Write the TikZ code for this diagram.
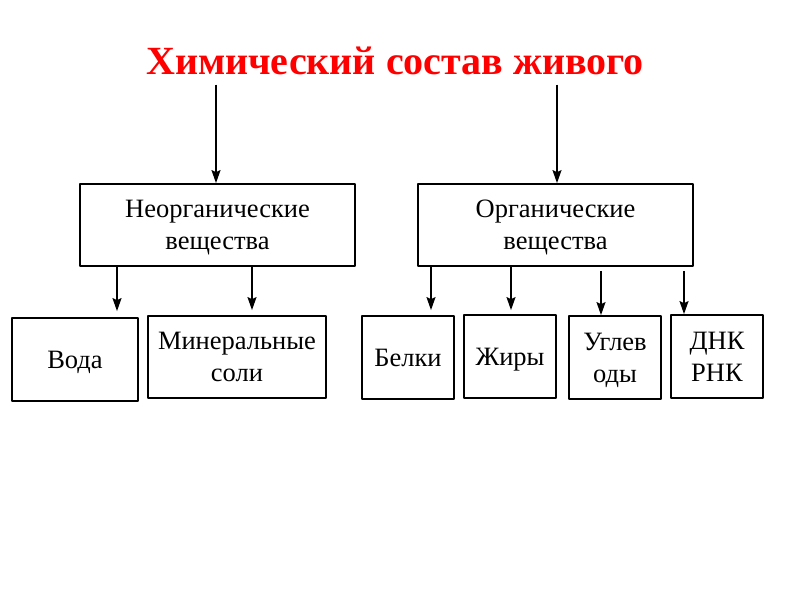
\documentclass[tikz,border=0pt]{standalone}
\usepackage{fontspec}
\setmainfont{Liberation Serif}
\usetikzlibrary{arrows.meta}
\tikzset{
  box/.style={draw, line width=1.8pt, align=center, inner sep=2pt, text depth=0pt,
    font=\fontsize{26.5}{32}\selectfont},
  arr/.style={-{Stealth[length=13pt,width=9pt,inset=2pt]}, line width=1.4pt}
}
\begin{document}
\begin{tikzpicture}[x=1pt, y=-1pt, line join=round]
	\useasboundingbox (0,0) rectangle (800,600);
	\node[font=\bfseries\fontsize{40}{44}\selectfont, text=red] (title) at (395,61) {Химический состав живого};
	% second row
	\node[box, minimum width=275pt, minimum height=82pt] (neorg) at (217.5,225) {Неорганические\\вещества};
	\node[box, minimum width=275pt, minimum height=82pt] (org) at (555.5,225) {Органические\\вещества};
	% third row
	\node[box, minimum width=126pt, minimum height=83pt] (voda) at (75,359.5) {Вода};
	\node[box, minimum width=178pt, minimum height=82pt] (mineral) at (237,357) {Минеральные\\соли};
	\node[box, minimum width=92pt, minimum height=83pt] (belki) at (408,357.5) {Белки};
	\node[box, minimum width=92pt, minimum height=83pt] (zhiry) at (510,356.5) {Жиры};
	\node[box, minimum width=92pt, minimum height=83pt] (uglev) at (615,357.5) {Углев\\оды};
	\node[box, minimum width=92pt, minimum height=83pt] (dnk) at (717,356.5) {ДНК\\РНК};
	% arrows
	\draw[arr] (title.south -| 216,0) ++(0,6) -- (neorg.north -| 216,0);
	\draw[arr] (title.south -| 557,0) ++(0,6) -- (org.north -| 557,0);
	\draw[arr] (neorg.south -| 117,0) -- ([yshift=6pt]voda.north -| 117,0);
	\draw[arr] (neorg.south -| 252,0) -- ([yshift=5pt]mineral.north -| 252,0);
	\draw[arr] (org.south -| 431,0) -- ([yshift=5pt]belki.north -| 431,0);
	\draw[arr] (org.south -| 511,0) -- ([yshift=4pt]zhiry.north -| 511,0);
	\draw[arr] ([yshift=-4pt]org.south -| 601,0) -- (uglev.north -| 601,0);
	\draw[arr] ([yshift=-4pt]org.south -| 684,0) -- (dnk.north -| 684,0);
\end{tikzpicture}
\end{document}
